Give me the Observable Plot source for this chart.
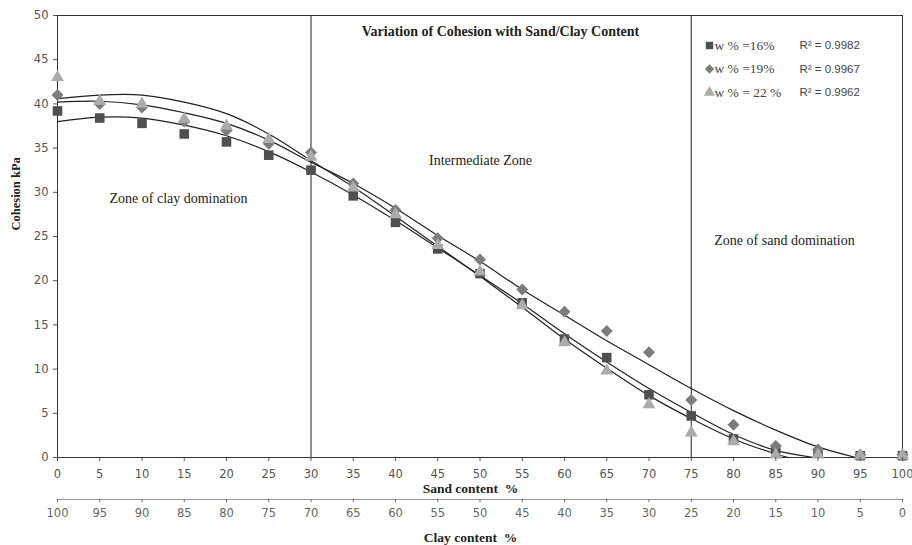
<!DOCTYPE html>
<html><head><meta charset="utf-8">
<script src="https://cdn.jsdelivr.net/npm/d3@7"></script>
<script src="https://cdn.jsdelivr.net/npm/@observablehq/plot@0.6"></script>
<style>body{margin:0;background:#fff}#chart{width:912px;height:545px}</style>
</head><body><div id="chart"></div>
<script>
// Sand content % (x); clay content = 100 - sand
const sand = [0,5,10,15,20,25,30,35,40,45,50,55,60,65,70,75,80,85,90,95,100];
// Measured cohesion (kPa)
const coh16 = [39.2,38.4,37.8,36.6,35.7,34.2,32.5,29.6,26.6,23.6,20.8,17.5,13.4,11.3,7.1,4.7,2.1,0.9,0.5,0.2,0.2];
const coh19 = [41.0,40.0,39.6,38.0,37.0,35.5,34.5,31.0,28.0,24.8,22.4,19.0,16.5,14.3,11.9,6.5,3.7,1.3,0.9,0.3,0.3];
const coh22 = [43.0,40.3,40.0,38.3,37.5,36.0,34.0,30.5,27.5,24.0,21.0,17.2,13.0,9.8,6.0,2.8,1.8,0.3,0.3,0.2,0.2];
// Trend lines
const fitX16 = [0,5,10,15,20,25,30,35,40,45,50,55,60,65,70,75,80,85,89.5];
const fit16  = [38.0,38.5,38.4,37.6,36.4,34.6,32.3,29.7,26.8,23.7,20.6,17.4,14.0,10.8,7.8,5.1,2.6,0.8,0];
const fitX19 = [0,5,10,15,20,25,30,35,40,45,50,55,60,65,70,75,80,85,90,94.5];
const fit19  = [40.2,40.3,39.9,39.0,37.8,35.9,33.4,31.0,28.2,25.1,22.2,19.0,16.1,13.2,10.5,7.8,5.3,3.1,1.2,0];
const fitX22 = [0,5,10,15,20,25,30,35,40,45,50,55,60,65,70,75,80,85,86.5];
const fit22  = [40.6,41.0,41.0,40.2,38.9,36.6,33.6,30.6,27.3,23.9,20.5,17.0,13.4,10.1,7.0,4.4,2.1,0.4,0];
// Zone boundaries and labels
const zoneBounds = [30,75];
const seriesNames = ["w % =16%","w % =19%","w % = 22 %"];
const r2Labels = ["R\u00b2 = 0.9982","R\u00b2 = 0.9967","R\u00b2 = 0.9962"];
const xTicks = [0,5,10,15,20,25,30,35,40,45,50,55,60,65,70,75,80,85,90,95,100];
const yTicks = [0,5,10,15,20,25,30,35,40,45,50];

const pts = (ys) => sand.map((x,i) => ({x, y: ys[i]}));
const fit = (xs, ys) => xs.map((x,i) => ({x, y: ys[i]}));

const symbols = ["square","diamond2","triangle"];
const fills = ["#4f4f4f","#7c7c7c","#ababab"];
const radii = [5.4,5.4,4.8];
const serif = "'Liberation Serif', serif";

const legendMarks = seriesNames.flatMap((name,i) => [
  Plot.dot([0], {frameAnchor:"top-left", dx:652, dy:30+i*23.5, symbol:symbols[i], fill:fills[i], r:4.2}),
  Plot.text([name], {frameAnchor:"top-left", dx:657, dy:30+i*23.5, text:d=>d, textAnchor:"start", lineAnchor:"middle", fontSize:13.5, fontFamily:serif, fill:"#444"}),
  Plot.text([r2Labels[i]], {frameAnchor:"top-left", dx:742, dy:30+i*23.5, text:d=>d, textAnchor:"start", lineAnchor:"middle", fontSize:11.5, fontFamily:"'Liberation Sans', sans-serif", fill:"#444"})
]);

const label = (s, dx, dy, extra = {}) => Plot.text([s], {frameAnchor:"top-left", dx, dy, text:d=>d, textAnchor:"middle", lineAnchor:"middle", fontSize:14, fontFamily:serif, fill:"#222", ...extra});

const chart = Plot.plot({
  width: 912,
  height: 545,
  marginLeft: 57,
  marginRight: 10,
  marginTop: 15,
  marginBottom: 88,
  style: {fontFamily: "'DejaVu Sans', sans-serif", background: "#fff"},
  x: {domain: [0,100]},
  y: {domain: [0,50]},
  marks: [
    Plot.frame({stroke:"#333"}),
    Plot.ruleX(zoneBounds, {stroke:"#333", strokeWidth:1.1}),
    Plot.line(fit(fitX16, fit16), {x:"x", y:"y", curve:"catmull-rom", stroke:"#222", strokeWidth:1.2}),
    Plot.line(fit(fitX19, fit19), {x:"x", y:"y", curve:"catmull-rom", stroke:"#222", strokeWidth:1.2}),
    Plot.line(fit(fitX22, fit22), {x:"x", y:"y", curve:"catmull-rom", stroke:"#222", strokeWidth:1.2}),
    Plot.dot(pts(coh16), {x:"x", y:"y", symbol:symbols[0], fill:fills[0], r:radii[0]}),
    Plot.dot(pts(coh19), {x:"x", y:"y", symbol:symbols[1], fill:fills[1], r:radii[1]}),
    Plot.dot(pts(coh22), {x:"x", y:"y", symbol:symbols[2], fill:fills[2], r:radii[2]}),
    Plot.axisY({ticks: yTicks, tickSize: 4, tickPadding: 5, fontSize: 11.5, color:"#555", label: null}),
    Plot.axisX({ticks: xTicks, tickSize: 4, tickPadding: 8, fontSize: 11.5, color:"#555", label: null}),
    Plot.ruleY([0], {dy: 42, stroke:"#999"}),
    Plot.axisX({ticks: xTicks, tickFormat: d => String(100 - d), tickSize: 3, tickPadding: 6, dy: 42, fontSize: 11.5, color:"#666", label: null}),
    label("Variation of Cohesion with Sand/Clay Content", 443, 16, {fontSize:14, fontWeight:"bold"}),
    label("Intermediate Zone", 423, 145),
    label("Zone of clay domination", 121, 183),
    label("Zone of sand domination", 727, 225),
    Plot.text(["Cohesion kPa"], {frameAnchor:"left", dx:-42, dy:-6, rotate:-90, text:d=>d, lineAnchor:"middle", fontSize:12.5, fontWeight:"bold", fontFamily:serif, fill:"#222"}),
    label("Sand content  %", 413, 473, {fontSize:13.5, fontWeight:"bold"}),
    label("Clay content  %", 413, 522, {fontSize:13.5, fontWeight:"bold"}),
    ...legendMarks
  ]
});
document.getElementById("chart").appendChild(chart);
</script>
</body></html>
